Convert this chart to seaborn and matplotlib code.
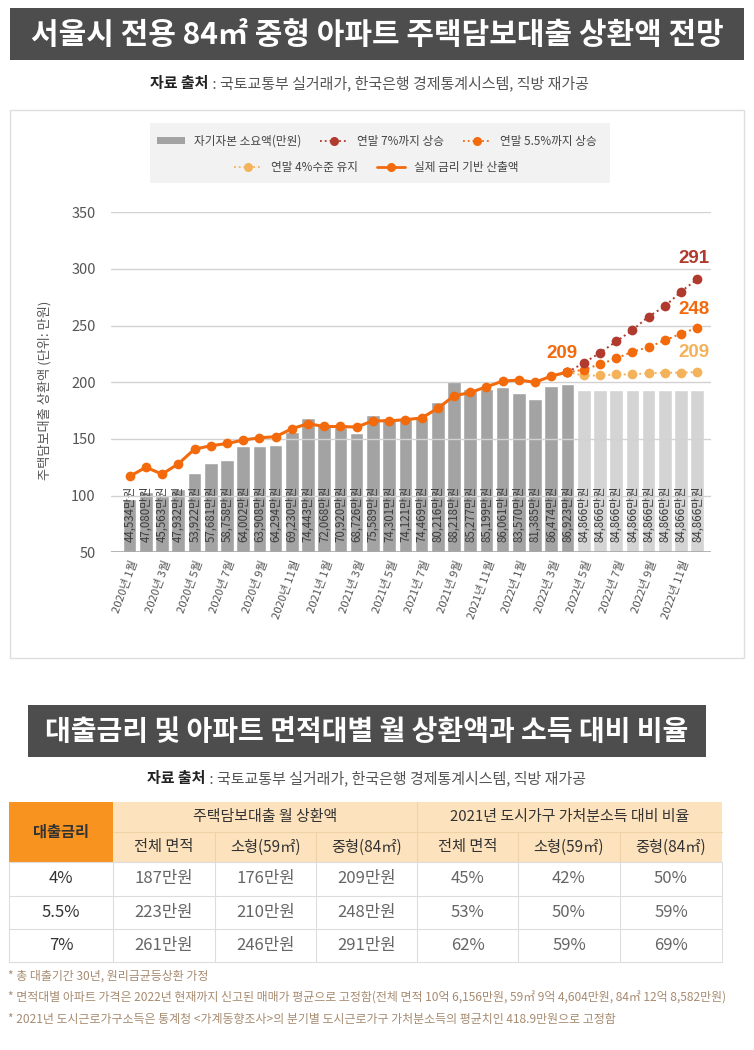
"""
서울시 전용 84㎡ 아파트 주택담보대출 상환액 전망 + 금리/면적대별 상환액 표
"""

import numpy as np
import pandas as pd
import matplotlib; matplotlib.use("Agg")
import matplotlib.pyplot as plt
import seaborn as sns
from matplotlib.patches import Rectangle, Patch
from matplotlib.lines import Line2D
from matplotlib.transforms import blended_transform_factory

sns.set_theme(style="white")
plt.rcParams["font.family"] = ["Noto Sans CJK KR", "DejaVu Sans"]

# ── 데이터 ─────────────────────────────────────────────────────────
months = [f"{y}년 {m}월" for y in (2020, 2021, 2022) for m in range(1, 13)]

# 자기자본 소요액(만원), 2020.1 ~ 2022.12
equity = [44534, 47080, 45563, 47932, 53922, 57681, 58758, 64002, 63908, 64294,
          69230, 74443, 72068, 70920, 68726, 75589, 74301, 74121, 74469, 80216,
          88218, 85277, 85199, 86061, 83570, 81385, 86474, 86923,
          84866, 84866, 84866, 84866, 84866, 84866, 84866, 84866]
phase = ["실적"] * 28 + ["전망"] * 8

# 실제 금리 기반 산출액 (2020.1 ~ 2022.4)
actual = [117, 125, 119, 128, 141, 144, 146, 149, 151, 152, 159, 163.5,
          161, 161, 160.5, 166, 166, 167, 168.5, 177, 188, 191, 196, 201,
          202, 200, 205.5, 209]
# 시나리오 (2022.4 ~ 2022.12)
rate7 = [209, 217, 226, 236, 246, 258, 267, 280, 291]
rate55 = [209, 211, 216, 221, 227, 231, 237, 243, 248]
rate4 = [209, 206, 206, 207, 207, 208, 208.5, 208.5, 209]

# 표
rate_labels = ["4%", "5.5%", "7%"]
pay_total = [187, 223, 261]
pay_small = [176, 210, 246]
pay_mid = [209, 248, 291]
ratio_total = [45, 53, 62]
ratio_small = [42, 50, 59]
ratio_mid = [50, 59, 69]

footnotes = [
    "* 총 대출기간 30년, 원리금균등상환 가정",
    "* 면적대별 아파트 가격은 2022년 현재까지 신고된 매매가 평균으로 고정함(전체 면적 10억 6,156만원, 59㎡ 9억 4,604만원, 84㎡ 12억 8,582만원)",
    "* 2021년 도시근로가구소득은 통계청 <가계동향조사>의 분기별 도시근로가구 가처분소득의 평균치인 418.9만원으로 고정함",
]
source = "국토교통부 실거래가, 한국은행 경제통계시스템, 직방 재가공"

C_BAR, C_BAR_F = "#a3a3a3", "#d4d4d4"
C7, C55, C4, C_ACT = "#b03a2e", "#f26a0c", "#f4b25a", "#f26a0c"
C_BANNER = "#4d4d4d"
W, H = 754, 1050

fig = plt.figure(figsize=(W / 100, H / 100), dpi=100)
bg = fig.add_axes([0, 0, 1, 1])
bg.set_xlim(0, W); bg.set_ylim(H, 0); bg.axis("off"); bg.set_zorder(0)
renderer = fig.canvas.get_renderer()


def banner(x, y, w, h, text, size):
    bg.add_patch(Rectangle((x, y), w, h, facecolor=C_BANNER, edgecolor="none"))
    bg.text(x + w / 2, y + h / 2 + 1, text, ha="center", va="center",
            color="white", fontsize=size, fontweight="bold")


def source_line(x, y):
    t = bg.text(x, y, "자료 출처", ha="left", va="center", fontsize=10.8,
                fontweight="bold", color="#222222")
    bb = t.get_window_extent(renderer)
    x2 = bg.transData.inverted().transform((bb.x1, 0))[0]
    bg.text(x2 + 1, y, " : " + source, ha="left", va="center", fontsize=10.8,
            color="#555555")


# ── 상단: 제목 & 차트 패널 ─────────────────────────────────────────
banner(10, 8, 734, 52, "서울시 전용 84㎡ 중형 아파트 주택담보대출 상환액 전망", 21.6)
source_line(150, 83)
bg.add_patch(Rectangle((10, 110), 734, 548, facecolor="white", edgecolor="#dedede", lw=1))
bg.add_patch(Rectangle((150, 123), 460, 60, facecolor="#f2f2f2", edgecolor="none"))
bg.text(45, 390, "주택담보대출 상환액 (단위: 만원)", rotation=90, ha="center",
        va="center", fontsize=9.5, color="#555555")

ax = fig.add_axes([111 / W, 1 - 552.3 / H, 600 / W, 340 / H])
axb = ax.twinx()
axb.set_zorder(2); ax.set_zorder(3); ax.patch.set_visible(False)

df = pd.DataFrame({"month": months, "equity": equity, "phase": phase})
sns.barplot(data=df, x="month", y="equity", hue="phase",
            palette={"실적": C_BAR, "전망": C_BAR_F}, dodge=False, legend=False,
            width=0.84, saturation=1, ax=axb)
axb.set_ylim(24600, 150760)
axb.set_yticks([]); axb.set_ylabel(""); axb.set_xlabel("")
tr = blended_transform_factory(axb.transData, axb.transAxes)
for i, v in enumerate(equity):
    axb.text(i, 0.03, f"{v:,}만원", transform=tr, rotation=90, ha="center",
             va="bottom", fontsize=8.3, color="#3d3d3d")

x_act = np.arange(len(actual))
x_fc = np.arange(len(actual) - 1, len(months))
for vals, col in [(rate4, C4), (rate55, C55), (rate7, C7)]:
    sns.lineplot(x=x_fc, y=vals, color=col, linestyle=":", linewidth=1.4,
                 marker="o", markersize=7, markeredgewidth=0, ax=ax)
sns.lineplot(x=x_act, y=actual, color=C_ACT, linewidth=2.2, marker="o",
             markersize=7, markeredgewidth=0, ax=ax)

num_font = ["Liberation Sans", "DejaVu Sans"]
ax.annotate("209", xy=(x_act[-1], actual[-1]), xytext=(-6, 19), textcoords="offset pixels",
            ha="center", va="center", fontsize=13.5, fontweight="bold", color=C55, family=num_font)
for vals, col, dy in [(rate7, C7, 21), (rate55, C55, 18), (rate4, C4, 20)]:
    ax.annotate(f"{vals[-1]:.0f}", xy=(x_fc[-1], vals[-1]), xytext=(-3, dy),
                textcoords="offset pixels", ha="center", va="center", fontsize=13.5,
                fontweight="bold", color=col, family=num_font)

ax.set_ylim(50, 350)
ax.set_yticks(range(50, 351, 50))
ax.yaxis.grid(True, color="#d2d2d2", linewidth=1)
ax.xaxis.grid(False)
ax.set_xlim(-1.15, 35.85)
ax.set_xticks(range(0, 36, 2))
ax.set_xticklabels([months[i] for i in range(0, 36, 2)])
plt.setp(ax.get_xticklabels(), rotation=70, ha="right", rotation_mode="anchor",
         fontsize=8.2, color="#555555")
ax.tick_params(axis="x", length=0, pad=5)
ax.tick_params(axis="y", length=0, pad=11, labelsize=10.5, labelcolor="#555555")
ax.set_xlabel(""); ax.set_ylabel("")
for a in (ax, axb):
    for s in a.spines.values():
        s.set_visible(False)
ax.axhline(50, color="#a8a8a8", linewidth=1.2)

# 범례 (2줄)
h1 = [Patch(facecolor=C_BAR, edgecolor="none"),
      Line2D([], [], color=C7, ls=":", lw=1.3, marker="o", ms=6.5, mew=0),
      Line2D([], [], color=C55, ls=":", lw=1.3, marker="o", ms=6.5, mew=0)]
l1 = ["자기자본 소요액(만원)", "연말 7%까지 상승", "연말 5.5%까지 상승"]
h2 = [Line2D([], [], color=C4, ls=":", lw=1.3, marker="o", ms=6.5, mew=0),
      Line2D([], [], color=C_ACT, lw=2, marker="o", ms=6.5, mew=0)]
l2 = ["연말 4%수준 유지", "실제 금리 기반 산출액"]
kw = dict(loc="center", bbox_transform=bg.transData, frameon=False, fontsize=8.4,
          labelcolor="#444444", handlelength=2.4, handletextpad=0.8, columnspacing=1.6,
          handleheight=0.6)
leg1 = bg.legend(h1, l1, bbox_to_anchor=(377, 141), ncol=3, **kw)
bg.add_artist(leg1)
bg.legend(h2, l2, bbox_to_anchor=(376, 167), ncol=2, **kw)

# ── 하단: 표 ──────────────────────────────────────────────────────
banner(28, 705, 678, 52, "대출금리 및 아파트 면적대별 월 상환액과 소득 대비 비율", 20.2)
source_line(147, 778)

ys = [802, 832, 862, 895.5, 929, 962]
xs = [9, 113, 215, 316, 417, 518, 620, 722]
bg.add_patch(Rectangle((xs[0], ys[0]), xs[1] - xs[0], ys[2] - ys[0],
                       facecolor="#f7931e", edgecolor="none"))
bg.add_patch(Rectangle((xs[1], ys[0]), xs[-1] - xs[1], ys[2] - ys[0],
                       facecolor="#fde3bd", edgecolor="none"))
bg.add_patch(Rectangle((xs[0], ys[2]), xs[-1] - xs[0], ys[-1] - ys[2],
                       facecolor="white", edgecolor="#dddddd", lw=0.8))
bg.plot([xs[1], xs[-1]], [ys[1], ys[1]], color="#efd2a8", lw=0.8)
bg.plot([xs[4], xs[4]], [ys[0], ys[2]], color="#efd2a8", lw=0.8)
for x in xs[2:4] + xs[5:7]:
    bg.plot([x, x], [ys[1], ys[2]], color="#efd2a8", lw=0.8)
for x in xs[1:-1]:
    bg.plot([x, x], [ys[2], ys[-1]], color="#dddddd", lw=0.8)
for y in ys[3:-1]:
    bg.plot([xs[0], xs[-1]], [y, y], color="#dddddd", lw=0.8)

bg.text((xs[0] + xs[1]) / 2, (ys[0] + ys[2]) / 2, "대출금리", ha="center", va="center",
        fontsize=11, fontweight="bold", color="#333333")
bg.text((xs[1] + xs[4]) / 2, (ys[0] + ys[1]) / 2, "주택담보대출 월 상환액", ha="center",
        va="center", fontsize=10.8, color="#333333")
bg.text((xs[4] + xs[7]) / 2, (ys[0] + ys[1]) / 2, "2021년 도시가구 가처분소득 대비 비율",
        ha="center", va="center", fontsize=10.8, color="#333333")
sub_heads = ["전체 면적", "소형(59㎡)", "중형(84㎡)"] * 2
for j, s in enumerate(sub_heads):
    bg.text((xs[j + 1] + xs[j + 2]) / 2, (ys[1] + ys[2]) / 2, s, ha="center",
            va="center", fontsize=11, color="#333333")

cols = [[f"{v}만원" for v in pay_total], [f"{v}만원" for v in pay_small],
        [f"{v}만원" for v in pay_mid], [f"{v}%" for v in ratio_total],
        [f"{v}%" for v in ratio_small], [f"{v}%" for v in ratio_mid]]
for r, lab in enumerate(rate_labels):
    yc = (ys[r + 2] + ys[r + 3]) / 2
    bg.text((xs[0] + xs[1]) / 2, yc, lab, ha="center", va="center", fontsize=12,
            color="#333333")
    for j, col in enumerate(cols):
        bg.text((xs[j + 1] + xs[j + 2]) / 2, yc, col[r], ha="center", va="center",
                fontsize=12, color="#666666")

for k, note in enumerate(footnotes):
    bg.text(8, 976 + k * 22, note, ha="left", va="center", fontsize=8.6,
            color="#a68b70")

plt.savefig("out.png", dpi=100)
